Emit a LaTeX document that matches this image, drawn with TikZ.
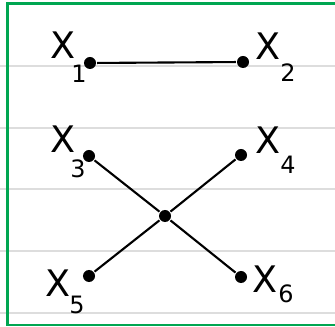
\documentclass[tikz,border=0pt]{standalone}
\usepackage{fontspec}
\setsansfont{DejaVu Sans}
\usepackage{tikz}
\usetikzlibrary{positioning}
\definecolor{framegreen}{RGB}{0,166,81}
\definecolor{ruleline}{RGB}{221,221,221}

\begin{document}
\begin{tikzpicture}[x=0.025cm, y=-0.025cm,
        dot/.style={circle, fill=black, inner sep=0pt, minimum size=0.3cm},
        lbl/.style={font=\sffamily\fontsize{26}{30}\selectfont, inner sep=0pt},
        sub/.style={font=\sffamily\fontsize{17}{20}\selectfont, inner sep=0pt},
        every path/.style={line width=1.5pt}]
            \useasboundingbox (0,0) rectangle (335,327);
            % ruled paper
            \foreach \ry in {66,128,189,251,313}
                \draw[ruleline, line width=1.2pt] (0,\ry) -- (335,\ry);
            \draw[framegreen, line width=1.6pt] (338,3.5) -- (7.5,3.5) -- (7.5,325) -- (338,325);
            % vertices
            \node[dot] (x1) at (90,63) {};
            \node[dot] (x2) at (243,62) {};
            \node[dot] (x3) at (89,156) {};
            \node[dot] (x4) at (241,155) {};
            \node[dot] (m) at (165,216) {};
            \node[dot] (x5) at (89,276) {};
            \node[dot] (x6) at (241,277) {};
            % labels
            \node[lbl] (l1) at (63,45) {X};
            \node[sub] (s1) at (79,74) {1};
            \node[lbl] (l2) at (268,46) {X};
            \node[sub] (s2) at (288,73) {2};
            \node[lbl] (l3) at (63,139) {X};
            \node[sub] (s3) at (78,169) {3};
            \node[lbl] (l4) at (268,140) {X};
            \node[sub] (s4) at (288,165) {4};
            \node[lbl] (l5) at (58,283) {X};
            \node[sub] (s5) at (77,305) {5};
            \node[lbl] (l6) at (265,279) {X};
            \node[sub] (s6) at (286,294) {6};
            % edges
            \draw (x1) -- (x2);
            \draw (x3) -- (m);
            \draw (m) -- (x6);
            \draw (x5) -- (m);
            \draw (m) -- (x4);
        \end{tikzpicture}
\end{document}
